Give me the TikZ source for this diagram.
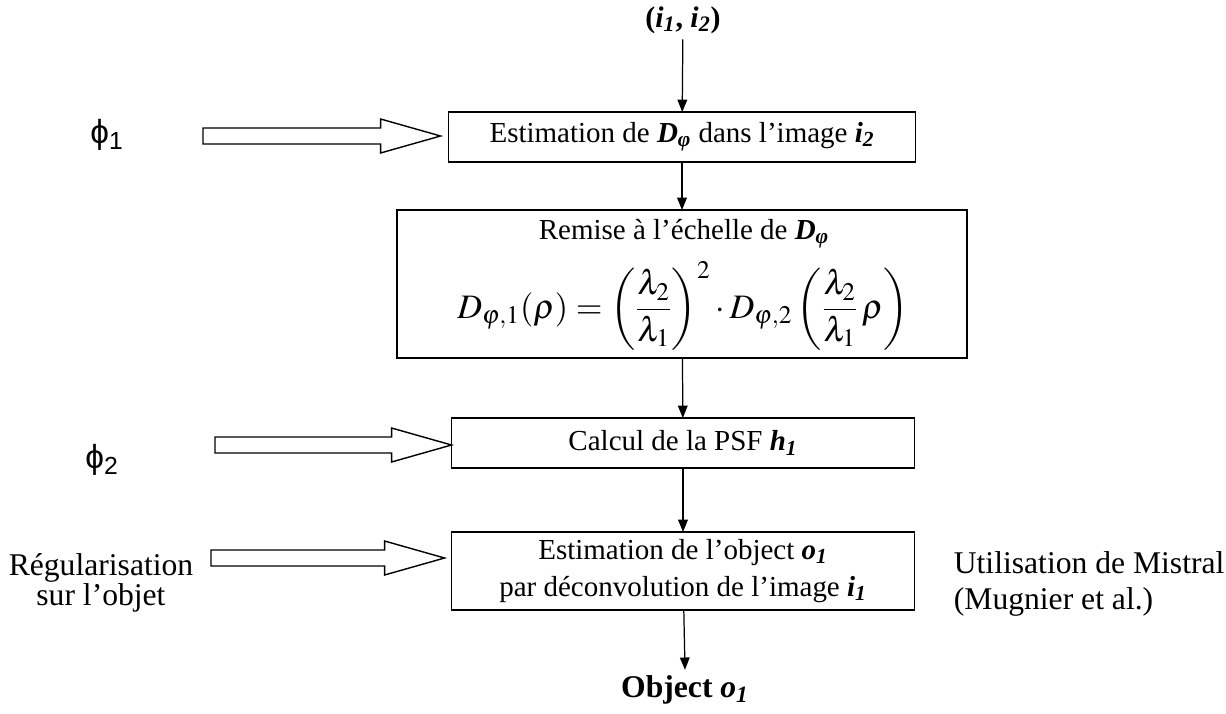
\documentclass[tikz,border=0pt]{standalone}
\usepackage{mathptmx}
\usepackage{fontspec}
\setmainfont{Liberation Serif}
\newfontfamily\phifont{Liberation Sans}
\usetikzlibrary{calc,arrows.meta}
\newcommand{\bi}[1]{\textbf{\textit{#1}}}
\begin{document}
\begin{tikzpicture}[x=0.02cm,y=-0.02cm,
  every node/.style={font=\fontsize{16.5}{21}\selectfont, outer sep=0pt},
  side/.style={font=\fontsize{18}{20}\selectfont},
  stage/.style={draw, line width=1pt, inner sep=0pt, align=center},
  flow/.style={line width=0.7pt, -{Triangle[length=7pt,width=5.5pt]}},
  hollow/.style={draw, line width=0.8pt, fill=white}]
\useasboundingbox (0,0) rectangle (1226,713);
% main chain
\node[font=\fontsize{17}{20}\selectfont] (inp) at (683,20) {\bfseries (\bi{i\textsubscript{1}}, \bi{i\textsubscript{2}})};
\node[stage, minimum width=9.34cm, minimum height=1.0cm] (b1) at (682,137) {Estimation de \bi{D\textsubscript{φ}} dans l’image \bi{i\textsubscript{2}}};
\node[stage, minimum width=11.4cm, minimum height=2.96cm] (b2) at (682,284) {};
\node[inner sep=0pt] (b2t) at (684,234) {Remise à l’échelle de \bi{D\textsubscript{φ}}};
\node[inner sep=0pt, font=\fontsize{19.5}{22}\selectfont] (b2f) at (683,306)
  {$\displaystyle D_{\varphi,1}(\rho)=\left(\frac{\lambda_2}{\lambda_1}\right)^{2}\cdot D_{\varphi,2}\left(\frac{\lambda_2}{\lambda_1}\,\rho\right)$};
\node[stage, minimum width=9.26cm, minimum height=1.0cm] (b3) at (683,443) {Calcul de la PSF \bi{h\textsubscript{1}}};
\node[stage, minimum width=9.26cm, minimum height=1.56cm] (b4) at (683,571) {Estimation de l’object \bi{o\textsubscript{1}}\\par déconvolution de l’image \bi{i\textsubscript{1}}};
\node[font=\fontsize{18}{20}\selectfont] (out) at (685,690) {\bfseries Object \bi{o\textsubscript{1}}};
\draw[flow] (inp) -- (b1);
\draw[flow] (b1) -- (b2);
\draw[flow] (b2) -- (b3);
\draw[flow] (b3) -- (b4);
\draw[flow] (b4) -- (out.north);
% side inputs
\node[font=\phifont\fontsize{19}{22}\selectfont] (phi1) at (107,135) {ϕ\textsubscript{1}};
\node[font=\phifont\fontsize{19}{22}\selectfont] (phi2) at (102,460) {ϕ\textsubscript{2}};
\node[side, align=center, font=\fontsize{18}{14.2}\selectfont] (reg) at (101,583) {Régularisation\\sur l’objet};
\node[side, align=left, anchor=west, font=\fontsize{18}{20}\selectfont] (mis) at (948,584) {Utilisation de Mistral\\(Mugnier et al.)};
\coordinate (t1) at ($(b1.west)+(-8,-1)$);
\coordinate (t2) at ($(b3.west)+(0,2)$);
\coordinate (t3) at ($(b4.west)+(-7,-13)$);
\path (t1 -| 203,0) coordinate (s1) (t2 -| 215,0) coordinate (s2) (t3 -| 211,0) coordinate (s3);
\foreach \a/\b in {s1/t1,s2/t2,s3/t3}
  \draw[hollow] ($(\a)+(0,-8)$) -- ($(\b)+(-60,-8)$) -- ($(\b)+(-60,-17)$) -- (\b)
    -- ($(\b)+(-60,17)$) -- ($(\b)+(-60,8)$) -- ($(\a)+(0,8)$) -- cycle;
\end{tikzpicture}
\end{document}
